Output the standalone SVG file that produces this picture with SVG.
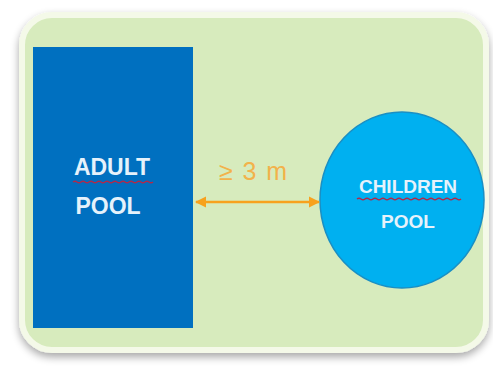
<svg xmlns="http://www.w3.org/2000/svg" width="493" height="368" viewBox="0 0 493 368">
<defs>
<filter id="sh" x="-10%" y="-10%" width="120%" height="125%">
<feGaussianBlur in="SourceAlpha" stdDeviation="4"/>
<feOffset dx="0" dy="4"/>
<feComponentTransfer><feFuncA type="linear" slope="0.35"/></feComponentTransfer>
<feMerge><feMergeNode/><feMergeNode in="SourceGraphic"/></feMerge>
</filter>
<marker id="ah" viewBox="0 0 10 10" refX="9" refY="5" markerWidth="4.5" markerHeight="4.5" orient="auto-start-reverse">
<path d="M0,0 L10,5 L0,10 z" fill="#f7a21e"/>
</marker>
<style>
.lbl{font-family:"Liberation Sans","Open Sans",sans-serif;font-weight:bold;fill:#e6f2fb;text-anchor:middle}
.big{font-size:23px}
.sm{font-size:19px}
.wavy{fill:none;stroke:#b02a4a;stroke-width:1.5}
</style>
</defs>
<rect width="493" height="368" fill="#ffffff"/>
<rect x="22" y="15" width="464" height="335" rx="30" fill="#d7ebbd" stroke="#f4f9e8" stroke-width="6" filter="url(#sh)"/>
<g id="adult-pool">
<rect x="33" y="47" width="160" height="281" fill="#0070c0"/>
<text class="lbl big" x="112" y="175">ADULT</text>
<path class="wavy" d="M73,182 q2,-1.5 4,0 t4,0 t4,0 t4,0 t4,0 t4,0 t4,0 t4,0 t4,0 t4,0 t4,0 t4,0 t4,0 t4,0 t4,0 t4,0 t4,0 t4,0 t4,0 t4,0"/>
<text class="lbl big" x="108" y="214">POOL</text>
</g>
<g id="children-pool">
<ellipse cx="402" cy="200" rx="82" ry="88" fill="#00b0f0" stroke="#1a8fc4" stroke-width="1.5"/>
<text class="lbl sm" x="408" y="193">CHILDREN</text>
<path class="wavy" d="M357,199 q2,-1.5 4,0 t4,0 t4,0 t4,0 t4,0 t4,0 t4,0 t4,0 t4,0 t4,0 t4,0 t4,0 t4,0 t4,0 t4,0 t4,0 t4,0 t4,0 t4,0 t4,0 t4,0 t4,0 t4,0 t4,0 t4,0 t4,0"/>
<text class="lbl sm" x="408" y="228">POOL</text>
</g>
<g id="connectors">
<line x1="196" y1="202" x2="319" y2="202" stroke="#f7a21e" stroke-width="2.5" marker-start="url(#ah)" marker-end="url(#ah)"/>
<text x="253" y="180" font-family="'Liberation Sans','Open Sans',sans-serif" font-size="25" fill="#f2b24a" text-anchor="middle" textLength="68" lengthAdjust="spacing">≥ 3 m</text>
</g>
</svg>
